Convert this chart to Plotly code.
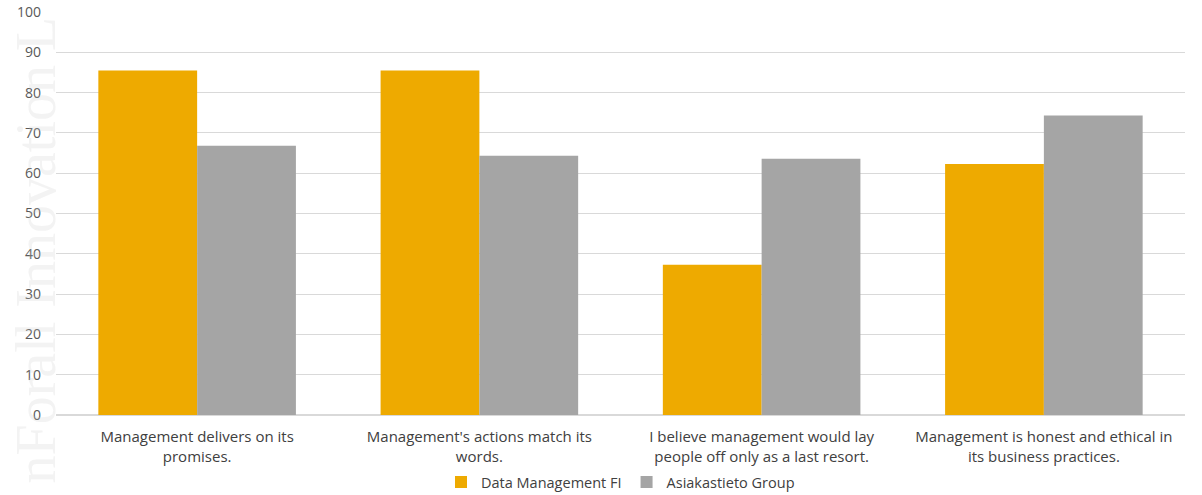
import plotly.graph_objects as go

categories = [
    "Management delivers on its<br>promises.",
    "Management's actions match its<br>words.",
    "I believe management would lay<br>people off only as a last resort.",
    "Management is honest and ethical in<br>its business practices.",
]
data_management_fi = [85.5, 85.5, 37.3, 62.3]
asiakastieto_group = [66.8, 64.3, 63.6, 74.3]
y_ticks = list(range(0, 101, 10))

ORANGE = "#EEAA00"
GRAY = "#A5A5A5"
FONT = "'Open Sans', sans-serif"

fig = go.Figure()
fig.add_trace(go.Bar(name="Data Management FI", x=categories, y=data_management_fi,
                     marker=dict(color=ORANGE, line=dict(width=0))))
fig.add_trace(go.Bar(name="Asiakastieto Group", x=categories, y=asiakastieto_group,
                     marker=dict(color=GRAY, line=dict(width=0))))

fig.update_layout(
    width=1202, height=495,
    margin=dict(l=56, r=17, t=12, b=80, autoexpand=False),
    paper_bgcolor="white", plot_bgcolor="white",
    barmode="group", bargap=0.3, bargroupgap=0,
    font=dict(family=FONT, color="#404040", size=15),
    legend=dict(orientation="h", x=0.5, xanchor="center",
                yref="container", y=0.026, yanchor="middle",
                font=dict(size=14.5, color="#404040"), itemwidth=30,
                traceorder="normal"),
    xaxis=dict(showgrid=False, showline=False, ticks="", automargin=False,
               tickfont=dict(size=15, color="#404040"), ticklabelstandoff=11),
    yaxis=dict(range=[0, 100], tickvals=y_ticks, showgrid=True, gridcolor="#D9D9D9",
               gridwidth=1, zeroline=True, zerolinecolor="#D9D9D9", showline=False,
               automargin=False,
               tickfont=dict(size=14, color="#595959"),
               ticklabelstandoff=14),
    annotations=[
        dict(text="nForall Innovation L", xref="paper", yref="paper",
             x=-0.018, y=0.41, xanchor="center", yanchor="middle", textangle=-90,
             showarrow=False,
             font=dict(family="'Liberation Serif', 'DejaVu Serif', serif", size=56,
                       color="rgba(200,200,200,0.22)")),
    ],
)

fig.write_html("out.html")
